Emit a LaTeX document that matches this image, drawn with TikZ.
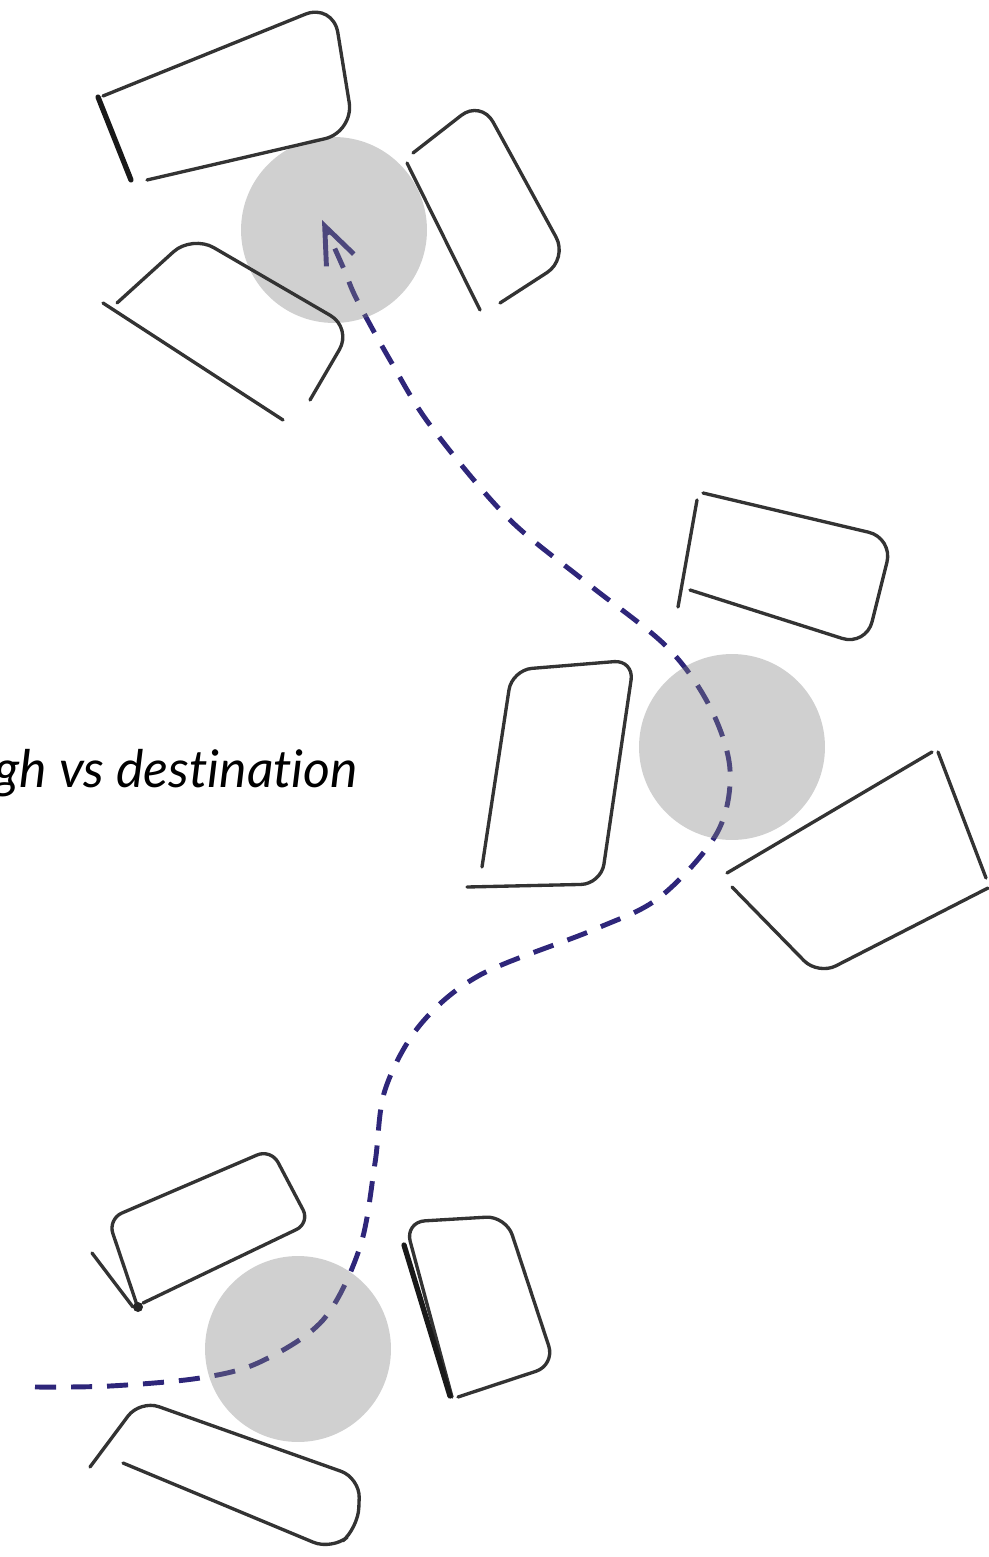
\documentclass[tikz,border=0pt]{standalone}
\usepackage{fontspec}
\usepackage{xcolor}
\usepackage{tikz}
\usetikzlibrary{arrows.meta,positioning}
\newfontfamily\labelfont{Lato}[Ligatures=NoCommon]
\definecolor{routeblue}{RGB}{46,38,122}

\begin{document}
\begin{tikzpicture}[
    x=0.02cm, y=-0.02cm,
    spot/.style={circle, inner sep=0pt, minimum size=3.72cm, fill=black!50, fill opacity=0.37},
    sketch/.style={draw=black!80, line width=1.9pt, line cap=round, line join=round},
    heavy/.style={sketch, draw=black!90, line width=3pt},
    route/.style={draw=routeblue, line width=2.8pt, dash pattern=on 12pt off 8.5pt,
        -{Straight Barb[length=0.75cm, width=0.6cm, line width=2.8pt]}}
]
    \useasboundingbox (0,0) rectangle (989,1557);

    % route from the left edge to the upper spot
    \coordinate (start) at (35,1387);
    \coordinate (goal) at (322,220);
    \draw[route] plot[smooth, tension=0.55] coordinates {
        (start) (110,1386) (200,1378) (260,1362) (323,1320) (360,1247)
        (375,1163) (385,1090) (420,1025) (480,975) (593,930) (660,897)
        (717,833) (730,770) (710,707) (667,647) (587,583) (507,517)
        (430,425) (390,360) (357,300) (343,267) (goal)};

    % the three spots
    \node[spot] (upper) at (334,230) {};
    \node[spot] (middle) at (732,747) {};
    \node[spot] (lower) at (298,1349) {};

    % upper group
    \draw[sketch, rounded corners=0.6cm] (103,96) -- (333,3) -- (354,132) -- (147,180);
    \draw[heavy] (98,97) -- (131,180);
    \draw[sketch, rounded corners=0.5cm] (413,153) -- (481,100) -- (568,259) -- (500,303);
    \draw[sketch] (407,163) -- (480,310);
    \draw[sketch, rounded corners=0.5cm] (117,303) -- (192,235) -- (352,328) -- (310,400);
    \draw[sketch] (103,303) -- (283,420);

    % middle group
    \draw[sketch, rounded corners=0.5cm] (703,493) -- (893,538) -- (866,646) -- (690,590);
    \draw[sketch] (697,500) -- (678,607);
    \draw[sketch, rounded corners=0.4cm] (482,867) -- (512,670) -- (634,660) -- (601,884) -- (467,887);
    \draw[sketch] (727,873) -- (932,752);
    \draw[sketch] (938,752) -- (986,878);
    \draw[sketch, rounded corners=0.4cm] (988,888) -- (818,975) -- (732,887);

    % lower group
    \draw[sketch, rounded corners=0.3cm] (138,1308) -- (108,1219) -- (271,1149) -- (310,1223) -- (143,1303);
    \draw[sketch] (92,1253) -- (133,1307);
    \fill[black!85] (138,1307) circle (0.1cm);
    \draw[sketch, rounded corners=0.4cm] (452,1397) -- (405,1222) -- (506,1216) -- (555,1365) -- (458,1397);
    \draw[heavy] (404,1245) -- (450,1396);
    \draw[sketch, rounded corners=0.4cm] (90,1467) -- (140,1400) -- (360,1478) -- (358,1528) -- (332,1550) -- (123,1463);

    % caption, cut at the left edge
    \node[anchor=base west, inner sep=0pt, font=\labelfont\itshape\fontsize{29.5}{35}\selectfont] (caption) at (-6,787) {gh vs destination};
\end{tikzpicture}
\end{document}
